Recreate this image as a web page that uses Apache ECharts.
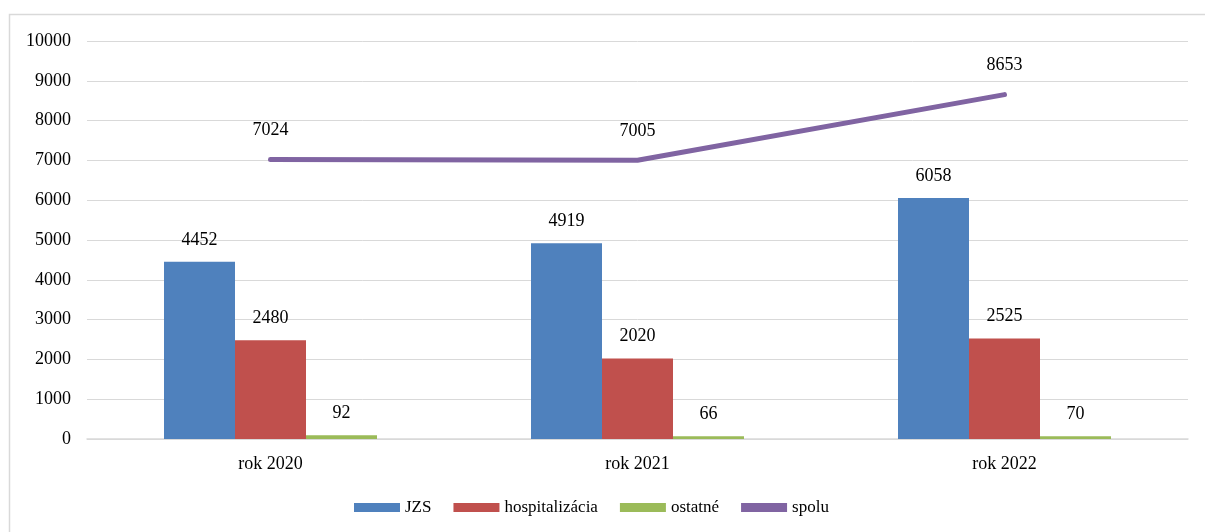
<!DOCTYPE html>
<html>
<head>
<meta charset="utf-8">
<script src="https://cdn.jsdelivr.net/npm/echarts@6/dist/echarts.min.js"></script>
<style>
html,body{margin:0;padding:0;background:#fff;overflow:hidden;}
#c{width:1205px;height:532px;}
</style>
</head>
<body>
<div id="c"></div>
<script>
const categories = ['rok 2020', 'rok 2021', 'rok 2022'];
const jzs = [4452, 4919, 6058];
const hospitalizacia = [2480, 2020, 2525];
const ostatne = [92, 66, 70];
const spolu = [7024, 7005, 8653];
const seriesNames = ['JZS', 'hospitalizácia', 'ostatné', 'spolu'];

const font = '"Liberation Serif", "Times New Roman", serif';
const chart = echarts.init(document.getElementById('c'));
const barLabel = {show: true, position: 'top', distance: 13, fontFamily: font, fontSize: 18, color: '#000'};
chart.setOption({
  animation: false,
  textStyle: {fontFamily: font},
  graphic: [{type: 'rect', left: 7, top: 12, shape: {width: 1400, height: 700}, style: {fill: 'none', stroke: '#d9d9d9', lineWidth: 1.5}, silent: true}],
  grid: {left: 87, right: 17, top: 41, bottom: 93},
  legend: {
    bottom: 11, left: 349,
    icon: 'rect',
    itemWidth: 46, itemHeight: 9, itemGap: 22,
    textStyle: {fontFamily: font, fontSize: 17, color: '#000'},
    data: seriesNames
  },
  xAxis: {
    type: 'category', data: categories,
    axisLine: {lineStyle: {color: '#d9d9d9', width: 1.5}},
    axisTick: {show: false},
    axisLabel: {fontFamily: font, fontSize: 18, color: '#000', margin: 16}
  },
  yAxis: {
    type: 'value', min: 0, max: 10000, interval: 1000,
    axisLine: {show: false}, axisTick: {show: false},
    splitLine: {lineStyle: {color: '#d9d9d9', width: 1}},
    axisLabel: {fontFamily: font, fontSize: 18, color: '#000', margin: 16, formatter: function (v) { return String(v); }}
  },
  series: [
    {name: seriesNames[0], type: 'bar', data: jzs, barWidth: 71, barGap: '0%', itemStyle: {color: '#4F81BD'}, label: barLabel},
    {name: seriesNames[1], type: 'bar', data: hospitalizacia, barWidth: 71, barGap: '0%', itemStyle: {color: '#C0504D'}, label: barLabel},
    {name: seriesNames[2], type: 'bar', data: ostatne, barWidth: 71, barGap: '0%', itemStyle: {color: '#9BBB59'}, label: barLabel},
    {name: seriesNames[3], type: 'line', data: spolu, symbol: 'circle', symbolSize: 0.01, legendIcon: 'roundRect',
     lineStyle: {color: '#8064A2', width: 5, cap: 'round'}, itemStyle: {color: '#8064A2'},
     label: {show: true, position: 'top', distance: 20, fontFamily: font, fontSize: 18, color: '#000'}}
  ]
});
</script>
</body>
</html>
